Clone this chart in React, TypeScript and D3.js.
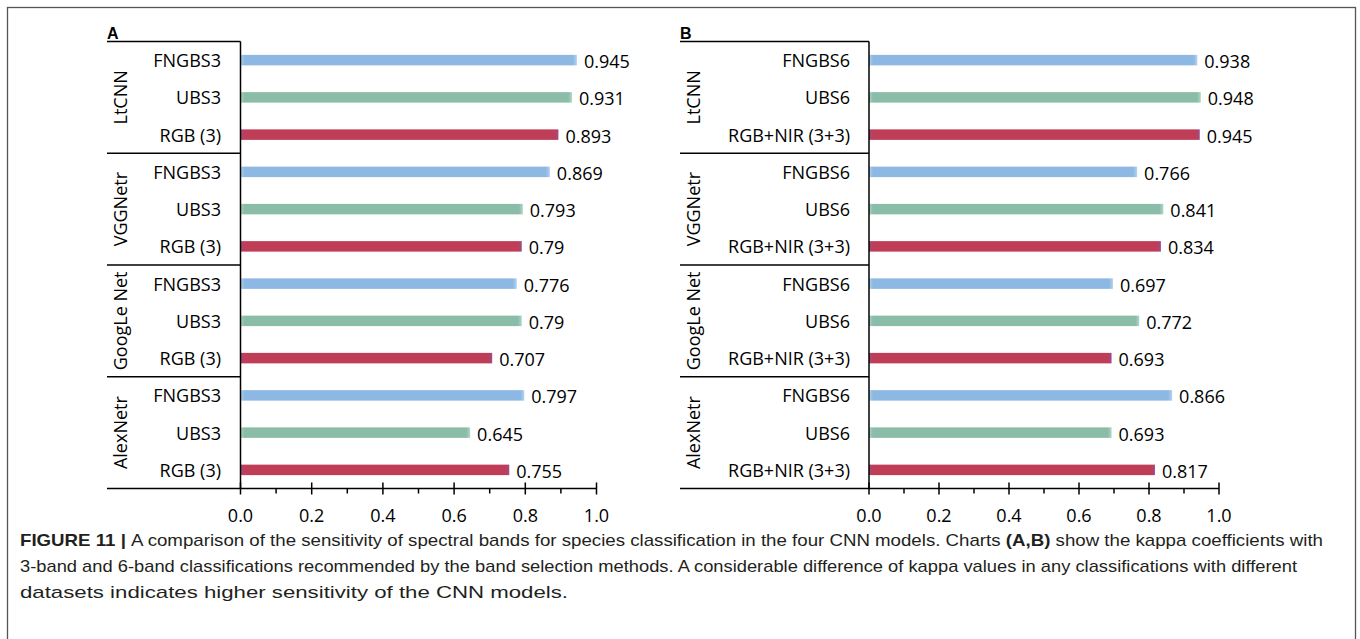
import { useEffect, useRef } from "react";
import * as d3 from "d3";

// model groups (top to bottom)
const groups = ["LtCNN", "VGGNetr", "GoogLe Net", "AlexNetr"];

// panel A: 3-band classifications
const catsA = ["FNGBS3", "UBS3", "RGB (3)"];
const valuesA = [
  [0.945, 0.931, 0.893],
  [0.869, 0.793, 0.79],
  [0.776, 0.79, 0.707],
  [0.797, 0.645, 0.755],
];

// panel B: 6-band classifications
const catsB = ["FNGBS6", "UBS6", "RGB+NIR (3+3)"];
const valuesB = [
  [0.938, 0.948, 0.945],
  [0.766, 0.841, 0.834],
  [0.697, 0.772, 0.693],
  [0.866, 0.693, 0.817],
];

const xTicks = [0, 0.2, 0.4, 0.6, 0.8, 1.0];
const minorTicks = [0.1, 0.3, 0.5, 0.7, 0.9];

const barColors = ["#8cb8e3", "#8abca8", "#c03d58"];
const barEdges = ["#b4d2ee", "#b0d4c6", "#9c4c86"];

const captionLines = [
  "A comparison of the sensitivity of spectral bands for species classification in the four CNN models. Charts ",
  "3-band and 6-band classifications recommended by the band selection methods. A considerable difference of kappa values in any classifications with different",
  "datasets indicates higher sensitivity of the CNN models.",
];

const FONT = "'Open Sans', sans-serif";
const FS = "18px";

const App = () => {
  const ref = useRef<SVGSVGElement>(null);

  useEffect(() => {
    const svg = d3.select(ref.current);
    svg.selectAll("*").remove();

    const defs = svg.append("defs");

    // outer frame
    svg.append("rect")
      .attr("x", 7.5).attr("y", 7.5)
      .attr("width", 1348).attr("height", 660)
      .attr("fill", "none")
      .attr("stroke", "#555")
      .attr("stroke-width", 1.3);

    const top = 41.5;
    const bottom = 488.5;

    const drawPanel = (
      key: string,
      letter: string,
      cats: string[],
      values: number[][],
      left: number,
      axisX: number,
      axisEnd: number,
      catRight: number
    ) => {
      const g = svg.append("g");
      const rows = groups.flatMap((gr, gi) => cats.map((c, ci) => ({
        id: `${gi}-${ci}`, group: gi, cat: c, ci, value: values[gi][ci],
      })));

      const x = d3.scaleLinear().domain([0, 1]).range([axisX, axisEnd]);
      const y = d3.scaleBand().domain(rows.map(r => r.id)).range([top, bottom]);
      const gy = d3.scaleBand().domain(groups).range([top, bottom]);
      const barH = 10.5;

      // panel letter
      g.append("text")
        .attr("x", left).attr("y", top - 3)
        .attr("font-family", "Arial, 'Liberation Sans', sans-serif")
        .attr("font-weight", "bold")
        .attr("font-size", "16px")
        .attr("fill", "#000")
        .text(letter);

      // bars with soft edges
      rows.forEach((r, i) => {
        const w = x(r.value) - x(0);
        const gid = `grad-${key}-${i}`;
        const f = Math.min(0.5, 4 / w);
        const grad = defs.append("linearGradient").attr("id", gid)
          .attr("x1", 0).attr("x2", 1).attr("y1", 0).attr("y2", 0);
        grad.append("stop").attr("offset", 0).attr("stop-color", barEdges[r.ci]);
        grad.append("stop").attr("offset", f).attr("stop-color", barColors[r.ci]);
        grad.append("stop").attr("offset", 1 - f).attr("stop-color", barColors[r.ci]);
        grad.append("stop").attr("offset", 1).attr("stop-color", barEdges[r.ci]);

        const cy = (y(r.id) as number) + y.bandwidth() / 2;
        g.append("rect")
          .attr("x", x(0))
          .attr("y", cy - barH / 2)
          .attr("width", w)
          .attr("height", barH)
          .attr("fill", `url(#${gid})`);

        // value label
        g.append("text")
          .attr("x", x(r.value) + 7)
          .attr("y", cy + 1)
          .attr("dominant-baseline", "central")
          .attr("font-family", FONT)
          .attr("font-size", FS)
          .attr("fill", "#000")
          .text(String(r.value));

        // category label
        g.append("text")
          .attr("x", catRight)
          .attr("y", cy)
          .attr("dominant-baseline", "central")
          .attr("text-anchor", "end")
          .attr("font-family", FONT)
          .attr("font-size", FS)
          .attr("fill", "#000")
          .text(r.cat);
      });

      // group labels (rotated)
      groups.forEach(gr => {
        const cy = (gy(gr) as number) + gy.bandwidth() / 2;
        g.append("text")
          .attr("transform", `translate(${left + 13},${cy}) rotate(-90)`)
          .attr("text-anchor", "middle")
          .attr("dominant-baseline", "central")
          .attr("font-family", FONT)
          .attr("font-size", FS)
          .attr("fill", "#000")
          .text(gr);
      });

      // group divider lines
      const dividers = [top, ...groups.slice(1).map(gr => gy(gr) as number)];
      dividers.forEach(d => {
        g.append("line")
          .attr("x1", left).attr("x2", axisX)
          .attr("y1", d).attr("y2", d)
          .attr("stroke", "#000").attr("stroke-width", 1.5);
      });

      // y axis line
      g.append("line")
        .attr("x1", axisX).attr("x2", axisX)
        .attr("y1", top).attr("y2", bottom)
        .attr("stroke", "#000").attr("stroke-width", 1.5);

      // x axis line (extends left under the labels)
      g.append("line")
        .attr("x1", left).attr("x2", axisEnd)
        .attr("y1", bottom).attr("y2", bottom)
        .attr("stroke", "#000").attr("stroke-width", 1.5);

      xTicks.forEach(t => {
        g.append("line")
          .attr("x1", x(t)).attr("x2", x(t))
          .attr("y1", bottom - 6).attr("y2", bottom + 6)
          .attr("stroke", "#000").attr("stroke-width", 1.5);
        g.append("text")
          .attr("x", x(t))
          .attr("y", bottom + 26)
          .attr("dominant-baseline", "central")
          .attr("text-anchor", "middle")
          .attr("font-family", FONT)
          .attr("font-size", FS)
          .attr("fill", "#000")
          .text(d3.format(".1f")(t));
      });
      minorTicks.forEach(t => {
        g.append("line")
          .attr("x1", x(t)).attr("x2", x(t))
          .attr("y1", bottom).attr("y2", bottom + 5)
          .attr("stroke", "#000").attr("stroke-width", 1.5);
      });
    };

    drawPanel("a", "A", catsA, valuesA, 107, 240.5, 596.5, 221);
    drawPanel("b", "B", catsB, valuesB, 680, 869, 1219, 850);

    // caption
    const capFont = "'Liberation Sans Narrow', 'Liberation Sans', Arial, sans-serif";
    const l1 = svg.append("text")
      .attr("x", 20).attr("y", 546)
      .attr("font-family", capFont)
      .attr("font-size", "17px")
      .attr("fill", "#231f20")
      .attr("textLength", 1303)
      .attr("lengthAdjust", "spacingAndGlyphs");
    l1.append("tspan").attr("font-weight", "bold").text("FIGURE 11 | ");
    l1.append("tspan").text(captionLines[0]);
    l1.append("tspan").attr("font-weight", "bold").text("(A,B)");
    l1.append("tspan").text(" show the kappa coefficients with");

    svg.append("text")
      .attr("x", 20).attr("y", 572)
      .attr("font-family", capFont)
      .attr("font-size", "17px")
      .attr("fill", "#231f20")
      .attr("textLength", 1277)
      .attr("lengthAdjust", "spacingAndGlyphs")
      .text(captionLines[1]);

    svg.append("text")
      .attr("x", 20).attr("y", 598)
      .attr("font-family", capFont)
      .attr("font-size", "17px")
      .attr("fill", "#231f20")
      .attr("textLength", 548)
      .attr("lengthAdjust", "spacingAndGlyphs")
      .text(captionLines[2]);
  }, []);

  return (
    <svg
      ref={ref}
      width={1360}
      height={639}
      style={{ position: "absolute", left: 0, top: 0, background: "#fff" }}
    />
  );
};

export default App;
